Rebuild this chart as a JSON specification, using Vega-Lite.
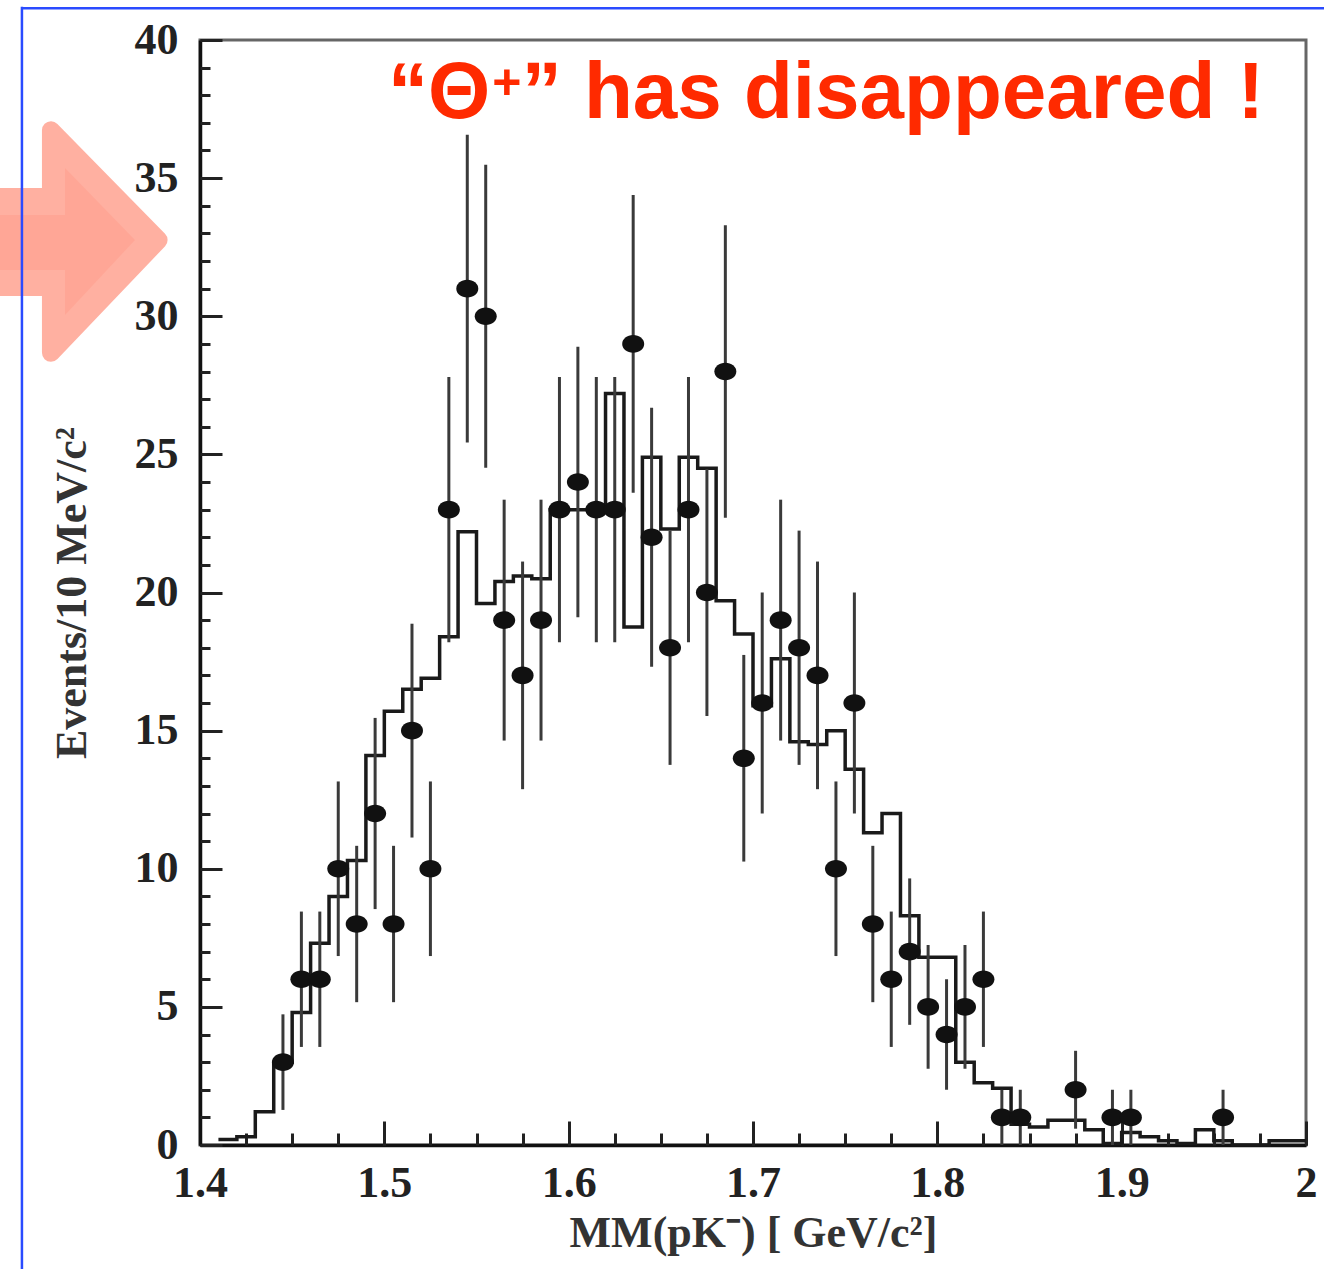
{
  "$schema": "https://vega.github.io/schema/vega-lite/v6.json",
  "width": 1106,
  "height": 1105,
  "autosize": {"type": "none"},
  "padding": {"left": 200, "top": 40, "right": 18, "bottom": 124},
  "background": "white",
  "config": {
    "view": {"stroke": "#666", "strokeWidth": 3},
    "axis": {"grid": false}
  },
  "datasets": {
    "hist": [
      {"edge": 1.41, "mc": 0.2}, {"edge": 1.42, "mc": 0.3}, {"edge": 1.43, "mc": 1.2}, {"edge": 1.44, "mc": 3.0},
      {"edge": 1.45, "mc": 4.8}, {"edge": 1.46, "mc": 7.3}, {"edge": 1.47, "mc": 9.0}, {"edge": 1.48, "mc": 10.3},
      {"edge": 1.49, "mc": 14.1}, {"edge": 1.50, "mc": 15.7}, {"edge": 1.51, "mc": 16.5}, {"edge": 1.52, "mc": 16.9},
      {"edge": 1.53, "mc": 18.4}, {"edge": 1.54, "mc": 22.2}, {"edge": 1.55, "mc": 19.6}, {"edge": 1.56, "mc": 20.4},
      {"edge": 1.57, "mc": 20.6}, {"edge": 1.58, "mc": 20.5}, {"edge": 1.59, "mc": 23.0}, {"edge": 1.60, "mc": 23.0},
      {"edge": 1.61, "mc": 23.0}, {"edge": 1.62, "mc": 27.2}, {"edge": 1.63, "mc": 18.75}, {"edge": 1.64, "mc": 24.9},
      {"edge": 1.65, "mc": 22.3}, {"edge": 1.66, "mc": 24.9}, {"edge": 1.67, "mc": 24.5}, {"edge": 1.68, "mc": 19.7},
      {"edge": 1.69, "mc": 18.5}, {"edge": 1.70, "mc": 15.9}, {"edge": 1.71, "mc": 17.6}, {"edge": 1.72, "mc": 14.6},
      {"edge": 1.73, "mc": 14.5}, {"edge": 1.74, "mc": 15.0}, {"edge": 1.75, "mc": 13.6}, {"edge": 1.76, "mc": 11.3},
      {"edge": 1.77, "mc": 12.0}, {"edge": 1.78, "mc": 8.3}, {"edge": 1.79, "mc": 6.8}, {"edge": 1.80, "mc": 6.8},
      {"edge": 1.81, "mc": 3.0}, {"edge": 1.82, "mc": 2.25}, {"edge": 1.83, "mc": 2.05}, {"edge": 1.84, "mc": 0.75},
      {"edge": 1.85, "mc": 0.65}, {"edge": 1.86, "mc": 0.9}, {"edge": 1.87, "mc": 0.9}, {"edge": 1.88, "mc": 0.55},
      {"edge": 1.89, "mc": 0.05}, {"edge": 1.90, "mc": 0.45}, {"edge": 1.91, "mc": 0.3}, {"edge": 1.92, "mc": 0.15},
      {"edge": 1.93, "mc": 0.05}, {"edge": 1.94, "mc": 0.55}, {"edge": 1.95, "mc": 0.15}, {"edge": 1.96, "mc": 0.0},
      {"edge": 1.97, "mc": 0.0}, {"edge": 1.98, "mc": 0.15}, {"edge": 1.99, "mc": 0.15}, {"edge": 2.00, "mc": 0.15}
    ],
    "pts": [
      {"m": 1.445, "n": 3, "lo": 1.27, "hi": 4.73},
      {"m": 1.455, "n": 6, "lo": 3.55, "hi": 8.45},
      {"m": 1.465, "n": 6, "lo": 3.55, "hi": 8.45},
      {"m": 1.475, "n": 10, "lo": 6.84, "hi": 13.16},
      {"m": 1.485, "n": 8, "lo": 5.17, "hi": 10.83},
      {"m": 1.495, "n": 12, "lo": 8.54, "hi": 15.46},
      {"m": 1.505, "n": 8, "lo": 5.17, "hi": 10.83},
      {"m": 1.515, "n": 15, "lo": 11.13, "hi": 18.87},
      {"m": 1.525, "n": 10, "lo": 6.84, "hi": 13.16},
      {"m": 1.535, "n": 23, "lo": 18.2, "hi": 27.8},
      {"m": 1.545, "n": 31, "lo": 25.43, "hi": 36.57},
      {"m": 1.555, "n": 30, "lo": 24.52, "hi": 35.48},
      {"m": 1.565, "n": 19, "lo": 14.64, "hi": 23.36},
      {"m": 1.575, "n": 17, "lo": 12.88, "hi": 21.12},
      {"m": 1.585, "n": 19, "lo": 14.64, "hi": 23.36},
      {"m": 1.595, "n": 23, "lo": 18.2, "hi": 27.8},
      {"m": 1.605, "n": 24, "lo": 19.1, "hi": 28.9},
      {"m": 1.615, "n": 23, "lo": 18.2, "hi": 27.8},
      {"m": 1.625, "n": 23, "lo": 18.2, "hi": 27.8},
      {"m": 1.635, "n": 29, "lo": 23.61, "hi": 34.39},
      {"m": 1.645, "n": 22, "lo": 17.31, "hi": 26.69},
      {"m": 1.655, "n": 18, "lo": 13.76, "hi": 22.24},
      {"m": 1.665, "n": 23, "lo": 18.2, "hi": 27.8},
      {"m": 1.675, "n": 20, "lo": 15.53, "hi": 24.47},
      {"m": 1.685, "n": 28, "lo": 22.71, "hi": 33.29},
      {"m": 1.695, "n": 14, "lo": 10.26, "hi": 17.74},
      {"m": 1.705, "n": 16, "lo": 12, "hi": 20},
      {"m": 1.715, "n": 19, "lo": 14.64, "hi": 23.36},
      {"m": 1.725, "n": 18, "lo": 13.76, "hi": 22.24},
      {"m": 1.735, "n": 17, "lo": 12.88, "hi": 21.12},
      {"m": 1.745, "n": 10, "lo": 6.84, "hi": 13.16},
      {"m": 1.755, "n": 16, "lo": 12, "hi": 20},
      {"m": 1.765, "n": 8, "lo": 5.17, "hi": 10.83},
      {"m": 1.775, "n": 6, "lo": 3.55, "hi": 8.45},
      {"m": 1.785, "n": 7, "lo": 4.35, "hi": 9.65},
      {"m": 1.795, "n": 5, "lo": 2.76, "hi": 7.24},
      {"m": 1.805, "n": 4, "lo": 2, "hi": 6},
      {"m": 1.815, "n": 5, "lo": 2.76, "hi": 7.24},
      {"m": 1.825, "n": 6, "lo": 3.55, "hi": 8.45},
      {"m": 1.835, "n": 1, "lo": 0, "hi": 2},
      {"m": 1.845, "n": 1, "lo": 0, "hi": 2},
      {"m": 1.875, "n": 2, "lo": 0.59, "hi": 3.41},
      {"m": 1.895, "n": 1, "lo": 0, "hi": 2},
      {"m": 1.905, "n": 1, "lo": 0, "hi": 2},
      {"m": 1.955, "n": 1, "lo": 0, "hi": 2}
    ],
    "one": [{"k": 1}]
  },
  "resolve": {"axis": {"x": "independent", "y": "independent"}},
  "layer": [
    {
      "data": {"name": "hist"},
      "mark": {"type": "line", "interpolate": "step-after", "color": "#1a1a1a", "strokeWidth": 3.5},
      "encoding": {
        "x": {
          "field": "edge", "type": "quantitative",
          "scale": {"domain": [1.4, 2.0], "nice": false, "zero": false},
          "axis": {
            "orient": "bottom",
            "values": [1.4, 1.5, 1.6, 1.7, 1.8, 1.9, 2.0],
            "format": "~g",
            "ticks": false,
            "domain": true, "domainColor": "#111", "domainWidth": 3.5,
            "labelFont": "Liberation Serif", "labelFontWeight": "bold", "labelFontSize": 44,
            "labelColor": "#222", "labelPadding": 16, "labelFlush": false,
            "title": "MM(pK⁻) [ GeV/c²]",
            "titleFont": "Liberation Serif", "titleFontWeight": "bold", "titleFontSize": 44,
            "titleColor": "#333", "titlePadding": 6
          }
        },
        "y": {
          "field": "mc", "type": "quantitative",
          "scale": {"domain": [0, 40], "nice": false},
          "axis": {
            "orient": "left",
            "values": [0, 5, 10, 15, 20, 25, 30, 35, 40],
            "ticks": false,
            "domain": true, "domainColor": "#111", "domainWidth": 3.5,
            "labelFont": "Liberation Serif", "labelFontWeight": "bold", "labelFontSize": 44,
            "labelColor": "#222", "labelPadding": 22, "labelFlush": false,
            "title": "Events/10 MeV/c²",
            "titleFont": "Liberation Serif", "titleFontWeight": "bold", "titleFontSize": 44,
            "titleColor": "#333", "titlePadding": 40
          }
        }
      }
    },
    {
      "data": {"name": "pts"},
      "mark": {"type": "rule", "color": "#3a3a3a", "strokeWidth": 3},
      "encoding": {
        "x": {
          "field": "m", "type": "quantitative",
          "axis": {
            "orient": "bottom",
            "values": [1.4, 1.5, 1.6, 1.7, 1.8, 1.9, 2.0],
            "labels": false, "domain": false, "title": null,
            "ticks": true, "tickSize": -24, "tickWidth": 3, "tickColor": "#222"
          }
        },
        "y": {
          "field": "lo", "type": "quantitative",
          "axis": {
            "orient": "left",
            "values": [0, 5, 10, 15, 20, 25, 30, 35, 40],
            "labels": false, "domain": false, "title": null,
            "ticks": true, "tickSize": -22, "tickWidth": 3, "tickColor": "#222"
          }
        },
        "y2": {"field": "hi"}
      }
    },
    {
      "data": {"name": "pts"},
      "mark": {"type": "point", "filled": true, "color": "#111", "opacity": 1,
               "shape": "M -1 0 A 1 0.8 0 1 0 1 0 A 1 0.8 0 1 0 -1 0 Z", "size": 484},
      "encoding": {
        "x": {
          "field": "m", "type": "quantitative",
          "axis": {
            "orient": "bottom",
            "values": [1.4, 1.425, 1.45, 1.475, 1.5, 1.525, 1.55, 1.575, 1.6, 1.625, 1.65, 1.675, 1.7, 1.725, 1.75, 1.775, 1.8, 1.825, 1.85, 1.875, 1.9, 1.925, 1.95, 1.975, 2.0],
            "labels": false, "domain": false, "title": null,
            "ticks": true, "tickSize": -12, "tickWidth": 3, "tickColor": "#222"
          }
        },
        "y": {
          "field": "n", "type": "quantitative",
          "axis": {
            "orient": "left",
            "values": [0, 1, 2, 3, 4, 5, 6, 7, 8, 9, 10, 11, 12, 13, 14, 15, 16, 17, 18, 19, 20, 21, 22, 23, 24, 25, 26, 27, 28, 29, 30, 31, 32, 33, 34, 35, 36, 37, 38, 39, 40],
            "labels": false, "domain": false, "title": null,
            "ticks": true, "tickSize": -10, "tickWidth": 3, "tickColor": "#222"
          }
        }
      }
    },
    {
      "data": {"name": "one"},
      "mark": {"type": "point", "filled": true, "color": "#ff6446", "stroke": "#ff6446", "strokeWidth": 18,
               "strokeJoin": "round", "opacity": 0.5, "clip": false,
               "shape": "M 0.655 0 L -0.242 -0.915 L -0.242 -0.358 L -1.3 -0.358 L -1.3 0.392 L -0.242 0.392 L -0.242 0.94 Z",
               "size": 57600},
      "encoding": {
        "x": {"datum": 1.3349, "type": "quantitative", "axis": null},
        "y": {"datum": 32.76, "type": "quantitative", "axis": null}
      }
    },
    {
      "data": {"name": "one"},
      "mark": {"type": "point", "filled": true, "color": "#ff6446", "opacity": 0.12, "clip": false,
               "shape": "M 0.458 0 L -0.125 -0.6 L -0.125 -0.208 L -1.3 -0.208 L -1.3 0.25 L -0.125 0.25 L -0.125 0.625 Z",
               "size": 57600},
      "encoding": {
        "x": {"datum": 1.3349, "type": "quantitative", "axis": null},
        "y": {"datum": 32.76, "type": "quantitative", "axis": null}
      }
    },
    {
      "data": {"name": "one"},
      "mark": {"type": "rule", "color": "#2a4bff", "strokeWidth": 2.5, "clip": false},
      "encoding": {
        "x": {"datum": 1.3034, "type": "quantitative", "axis": null},
        "y": {"datum": -5, "type": "quantitative", "axis": null},
        "y2": {"datum": 41.2}
      }
    },
    {
      "data": {"name": "one"},
      "mark": {"type": "rule", "color": "#2a4bff", "strokeWidth": 2.5, "clip": false},
      "encoding": {
        "x": {"datum": 1.3034, "type": "quantitative", "axis": null},
        "x2": {"datum": 2.03},
        "y": {"datum": 41.15, "type": "quantitative", "axis": null}
      }
    },
    {
      "data": {"name": "one"},
      "mark": {"type": "text", "text": "“Θ", "font": "Liberation Sans", "fontWeight": "bold", "fontSize": 80,
               "color": "#ff2a00", "align": "left", "baseline": "alphabetic", "clip": false},
      "encoding": {
        "x": {"datum": 1.502, "type": "quantitative", "axis": null},
        "y": {"datum": 37.17, "type": "quantitative", "axis": null}
      }
    },
    {
      "data": {"name": "one"},
      "mark": {"type": "text", "text": "+", "font": "Liberation Sans", "fontWeight": "bold", "fontSize": 50,
               "color": "#ff2a00", "align": "left", "baseline": "alphabetic", "clip": false},
      "encoding": {
        "x": {"datum": 1.5585, "type": "quantitative", "axis": null},
        "y": {"datum": 37.85, "type": "quantitative", "axis": null}
      }
    },
    {
      "data": {"name": "one"},
      "mark": {"type": "text", "text": "” has disappeared !", "font": "Liberation Sans", "fontWeight": "bold", "fontSize": 80,
               "color": "#ff2a00", "align": "left", "baseline": "alphabetic", "clip": false},
      "encoding": {
        "x": {"datum": 1.5745, "type": "quantitative", "axis": null},
        "y": {"datum": 37.17, "type": "quantitative", "axis": null}
      }
    }
  ]
}
